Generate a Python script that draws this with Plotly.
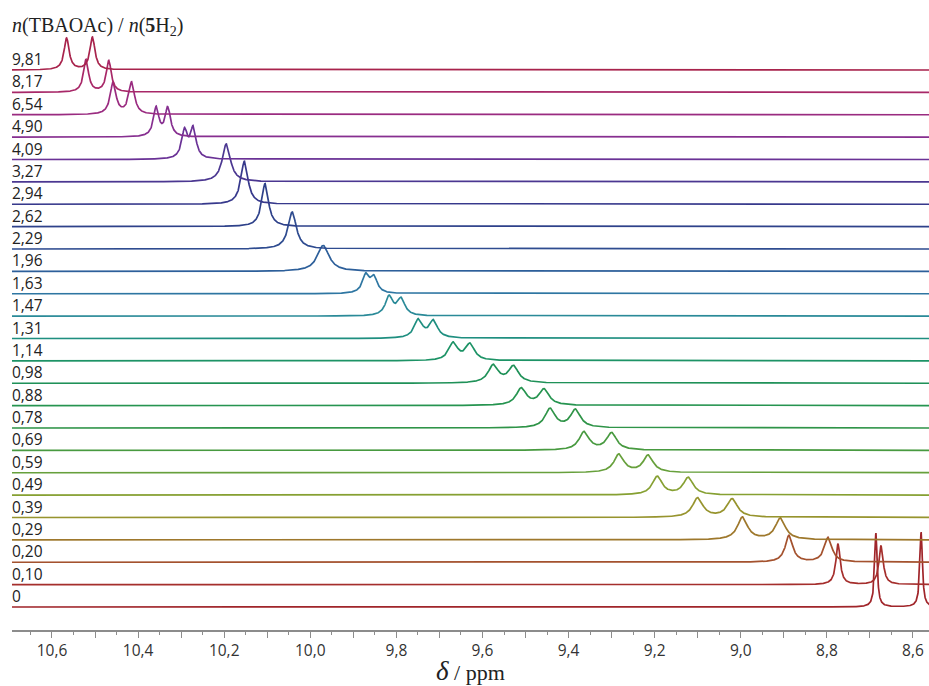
import numpy as np
import plotly.graph_objects as go

# ---- data (bottom spectrum first) ----
ratio_labels = ["0", "0,10", "0,20", "0,29", "0,39", "0,49", "0,59", "0,69", "0,78", "0,88",
                "0,98", "1,14", "1,31", "1,47", "1,63", "1,96", "2,29", "2,62", "2,94", "3,27",
                "4,09", "4,90", "6,54", "8,17", "9,81"]
peak1_ppm = [8.686, 8.774, 8.888, 8.996, 9.100, 9.194, 9.283, 9.364, 9.443, 9.510,
             9.575, 9.668, 9.749, 9.817, 9.871, 9.970, 10.042, 10.105, 10.153, 10.195,
             10.292, 10.358, 10.458, 10.521, 10.566]
peak2_ppm = [8.581, 8.674, 8.797, 8.908, 9.020, 9.122, 9.215, 9.300, 9.384, 9.457,
             9.528, 9.629, 9.714, 9.789, 9.852, None, None, None, None, None,
             10.272, 10.331, 10.415, 10.468, 10.506]
height1 = [74, 41, 27, 23, 20, 19, 19, 19, 20, 18,
           19, 19, 20, 21, 21, 26, 37, 43, 43, 38,
           32, 31, 33, 33, 32]
height2 = [75, 39, 25, 22, 19, 18, 18, 18, 19, 17,
           18, 18, 19, 19, 19, None, None, None, None, None,
           34, 31, 33, 32, 33]
linewidth_ppm = [0.007, 0.012, 0.021, 0.028, 0.029, 0.028, 0.028, 0.028, 0.028, 0.028,
                 0.028, 0.025, 0.023, 0.021, 0.0186, 0.033, 0.023, 0.019, 0.020, 0.023,
                 0.016, 0.015, 0.016, 0.014, 0.014]
colors = ["#a0252a", "#a52e2c", "#a4522e", "#9e782c", "#97942e", "#86a032", "#67a03c", "#489a40",
          "#2f9448", "#269450", "#1f9158", "#1d9366", "#1f8f80", "#2a8a98", "#2e76a2", "#2d5f9a",
          "#2f4c90", "#2e418a", "#37398c", "#4b3791", "#6a3296", "#872f90", "#9a2b80", "#a82868",
          "#a8234c"]
tick_values = [10.6, 10.4, 10.2, 10.0, 9.8, 9.6, 9.4, 9.2, 9.0, 8.8, 8.6]
tick_labels = ["10,6", "10,4", "10,2", "10,0", "9,8", "9,6", "9,4", "9,2", "9,0", "8,8", "8,6"]

STEP = 22.375  # vertical stacking offset


def lor(x, x0, w):
    return 1.0 / (1.0 + ((x - x0) / (w / 2.0)) ** 2)


x = np.linspace(8.55, 10.70, 4300)
fig = go.Figure()
for i, lab in enumerate(ratio_labels):
    w = linewidth_ppm[i]
    p1, h1 = peak1_ppm[i], height1[i]
    if peak2_ppm[i] is None:
        spec = h1 * lor(x, p1, w)
    else:
        p2, h2 = peak2_ppm[i], height2[i]
        c = lor(p1, p2, w)
        A = np.linalg.solve(np.array([[1.0, c], [c, 1.0]]), np.array([h1, h2], float))
        spec = A[0] * lor(x, p1, w) + A[1] * lor(x, p2, w)
    fig.add_trace(go.Scatter(x=x, y=spec + i * STEP, mode="lines",
                             line=dict(color=colors[i], width=1.7),
                             showlegend=False, hoverinfo="skip"))
    fig.add_annotation(x=-0.002, xref="paper", xanchor="left", y=i * STEP + 11, yref="y",
                       yanchor="middle", text=lab, showarrow=False,
                       font=dict(family="Open Sans", size=15.5, color="#222"))

fig.add_annotation(x=-0.002, xref="paper", xanchor="left", y=1.006, yref="paper",
                   yanchor="middle", showarrow=False,
                   text="<i>n</i>(TBAOAc) / <i>n</i>(<b>5</b>H<sub>2</sub>)",
                   font=dict(family="Liberation Serif", size=20, color="#222"))
fig.add_annotation(x=0.5, xref="paper", xanchor="center", y=-0.068, yref="paper",
                   yanchor="middle", showarrow=False,
                   text="<span style='font-size:27px'><i>δ</i></span> / ppm",
                   font=dict(family="Liberation Serif", size=22, color="#222"))

mid_ticks = [round(v - 0.1, 2) for v in tick_values[:-1]]
fig.update_layout(
    width=929, height=686,
    margin=dict(l=12, r=0, t=30, b=56),
    paper_bgcolor="white", plot_bgcolor="white",
    xaxis=dict(range=[10.6929, 8.5628], showline=True, linecolor="#8c8c8c", linewidth=1.5,
               showgrid=False, zeroline=False, ticks="outside", ticklen=6, tickwidth=1.2,
               tickcolor="#8c8c8c",
               tickmode="array", tickvals=tick_values + mid_ticks,
               ticktext=tick_labels + [""] * len(mid_ticks),
               tickfont=dict(family="Open Sans", size=15.5, color="#333"),
               minor=dict(ticks="outside", ticklen=3, dtick=0.05, tick0=8.6,
                          tickcolor="#8c8c8c", tickwidth=1, showgrid=False)),
    yaxis=dict(range=[-23, 577], visible=False, showgrid=False, zeroline=False),
)
fig.write_html("out.html", config={"displayModeBar": False},
               post_script="document.body.style.margin='0px';document.body.style.overflow='hidden';")
